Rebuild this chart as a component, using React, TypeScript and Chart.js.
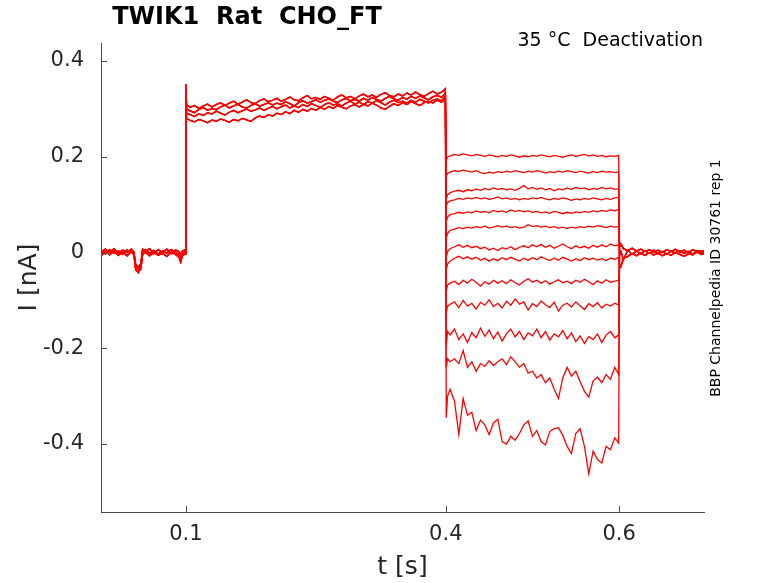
import React, { useEffect, useRef } from 'react';
import { Chart, registerables } from 'chart.js';

Chart.register(...registerables);

// ---- data ----
const chartTitle = 'TWIK1  Rat  CHO_FT';
const conditionNote = '35 °C  Deactivation';
const sourceNote = 'BBP Channelpedia ID 30761 rep 1';

const xTicks = [0.1, 0.4, 0.6];
const yTicks = [-0.4, -0.2, 0, 0.2, 0.4];

// holding phase before the pre-pulse
const baseT = [0.002, 0.007, 0.012, 0.017, 0.022, 0.027, 0.032, 0.037, 0.040, 0.042, 0.045, 0.048, 0.050, 0.053, 0.058, 0.063, 0.068, 0.073, 0.078, 0.083, 0.088, 0.092, 0.094, 0.096, 0.0995];
const baseA = [0.004, -0.003, 0.006, -0.001, 0.003, -0.004, 0.005, 0.000, -0.002, -0.030, -0.036, -0.028, 0.002, 0.006, -0.002, 0.004, -0.003, 0.003, -0.001, 0.006, 0.000, -0.004, -0.012, -0.003, 0.002];
const baseB = [-0.007, 0.002, -0.005, 0.003, -0.006, 0.001, -0.007, 0.002, -0.005, -0.036, -0.042, -0.034, -0.005, 0.001, -0.007, 0.000, -0.006, -0.002, -0.008, 0.001, -0.004, -0.010, -0.020, -0.006, -0.003];
const baseC = [0.001, 0.007, 0.000, 0.008, -0.002, 0.005, 0.000, 0.007, 0.001, -0.024, -0.032, -0.022, 0.007, 0.001, 0.008, -0.002, 0.006, 0.000, 0.007, -0.003, 0.005, 0.002, -0.004, 0.003, 0.006];

// activating pre-pulse
const stepT = [0.1, 0.1008,
  0.105, 0.11, 0.115, 0.12, 0.125, 0.13, 0.135, 0.14, 0.145, 0.15,
  0.155, 0.16, 0.165, 0.17, 0.175, 0.18, 0.185, 0.19, 0.195, 0.2,
  0.205, 0.21, 0.215, 0.22, 0.225, 0.23, 0.235, 0.24, 0.245, 0.25,
  0.255, 0.26, 0.265, 0.27, 0.275, 0.28, 0.285, 0.29, 0.295, 0.3,
  0.305, 0.31, 0.315, 0.32, 0.325, 0.33, 0.335, 0.34, 0.345, 0.35,
  0.355, 0.36, 0.365, 0.37, 0.375, 0.38, 0.385, 0.39, 0.395,
  0.3995];
const stepA = [0.352, 0.309,
  0.303, 0.307, 0.301, 0.306, 0.310, 0.304, 0.309, 0.313, 0.307, 0.312,
  0.316, 0.310, 0.314, 0.319, 0.313, 0.311, 0.317, 0.321, 0.315, 0.318,
  0.322, 0.316, 0.320, 0.325, 0.319, 0.317, 0.323, 0.328, 0.321, 0.324,
  0.320, 0.326, 0.322, 0.318, 0.325, 0.329, 0.323, 0.326, 0.321, 0.327,
  0.331, 0.325, 0.329, 0.324, 0.330, 0.334, 0.328, 0.325, 0.331, 0.327,
  0.333, 0.329, 0.335, 0.330, 0.326, 0.332, 0.337, 0.331, 0.335,
  0.342];
const stepB = [0.340, 0.300,
  0.296, 0.292, 0.299, 0.303, 0.297, 0.301, 0.298, 0.304, 0.308, 0.302,
  0.306, 0.310, 0.304, 0.301, 0.307, 0.311, 0.306, 0.309, 0.313, 0.308,
  0.312, 0.309, 0.315, 0.311, 0.306, 0.313, 0.317, 0.312, 0.315, 0.319,
  0.314, 0.318, 0.321, 0.316, 0.313, 0.319, 0.322, 0.317, 0.320, 0.316,
  0.322, 0.318, 0.324, 0.320, 0.316, 0.322, 0.326, 0.321, 0.318, 0.324,
  0.320, 0.326, 0.322, 0.327, 0.323, 0.319, 0.325, 0.328, 0.324,
  0.333];
const stepC = [0.330, 0.291,
  0.288, 0.284, 0.290, 0.286, 0.292, 0.289, 0.295, 0.291, 0.287, 0.293,
  0.297, 0.292, 0.296, 0.300, 0.295, 0.298, 0.302, 0.297, 0.301, 0.305,
  0.300, 0.304, 0.308, 0.302, 0.306, 0.303, 0.309, 0.305, 0.311, 0.307,
  0.303, 0.309, 0.313, 0.308, 0.311, 0.306, 0.312, 0.316, 0.310, 0.314,
  0.309, 0.315, 0.312, 0.317, 0.313, 0.308, 0.314, 0.318, 0.313, 0.316,
  0.312, 0.318, 0.314, 0.320, 0.316, 0.312, 0.318, 0.321, 0.317,
  0.326];
const stepD = [0.318, 0.280,
  0.276, 0.273, 0.278, 0.275, 0.271, 0.277, 0.274, 0.279, 0.276, 0.272,
  0.278, 0.275, 0.280, 0.277, 0.274, 0.281, 0.285, 0.282, 0.288, 0.285,
  0.291, 0.288, 0.294, 0.290, 0.297, 0.293, 0.299, 0.295, 0.301, 0.297,
  0.303, 0.299, 0.305, 0.301, 0.307, 0.303, 0.300, 0.306, 0.309, 0.304,
  0.310, 0.306, 0.312, 0.308, 0.302, 0.299, 0.305, 0.311, 0.307, 0.313,
  0.309, 0.315, 0.311, 0.307, 0.313, 0.316, 0.312, 0.318, 0.314,
  0.320];

// deactivation test pulses
const deactT = [0.4005, 0.402, 0.405,
  0.41, 0.415, 0.42, 0.425, 0.43, 0.435, 0.44, 0.445, 0.45, 0.455,
  0.46, 0.465, 0.47, 0.475, 0.48, 0.485, 0.49, 0.495, 0.50, 0.505,
  0.51, 0.515, 0.52, 0.525, 0.53, 0.535, 0.54, 0.545, 0.55, 0.555,
  0.56, 0.565, 0.57, 0.575, 0.58, 0.585, 0.59, 0.595, 0.5995];
const deact1 = [0.194, 0.199, 0.202,
  0.205, 0.203, 0.206, 0.204, 0.202, 0.205, 0.203, 0.201, 0.204, 0.202,
  0.200, 0.203, 0.201, 0.204, 0.202, 0.199, 0.202, 0.200, 0.203, 0.201,
  0.204, 0.202, 0.200, 0.203, 0.201, 0.199, 0.202, 0.204, 0.201, 0.203,
  0.205, 0.202, 0.204, 0.201, 0.203, 0.200, 0.202, 0.201, 0.203];
const deact2 = [0.160, 0.165, 0.168,
  0.171, 0.169, 0.172, 0.170, 0.168, 0.171, 0.167, 0.165, 0.168, 0.166,
  0.169, 0.167, 0.170, 0.168, 0.171, 0.169, 0.167, 0.170, 0.168, 0.171,
  0.169, 0.166, 0.169, 0.167, 0.170, 0.168, 0.171, 0.169, 0.167, 0.170,
  0.168, 0.166, 0.169, 0.167, 0.170, 0.168, 0.169, 0.167, 0.168];
const deact3 = [0.112, 0.120, 0.125,
  0.128, 0.130, 0.127, 0.131, 0.129, 0.133, 0.130, 0.134, 0.131, 0.135,
  0.132, 0.134, 0.131, 0.133, 0.130, 0.134, 0.140, 0.133, 0.136, 0.132,
  0.135, 0.131, 0.134, 0.129, 0.133, 0.131, 0.135, 0.132, 0.136, 0.133,
  0.135, 0.131, 0.134, 0.132, 0.136, 0.133, 0.135, 0.132, 0.133];
const deact4 = [0.098, 0.104, 0.108,
  0.110, 0.113, 0.111, 0.114, 0.112, 0.115, 0.112, 0.114, 0.111, 0.113,
  0.116, 0.112, 0.114, 0.111, 0.113, 0.110, 0.113, 0.111, 0.114, 0.112,
  0.115, 0.112, 0.110, 0.113, 0.111, 0.114, 0.112, 0.109, 0.112, 0.110,
  0.113, 0.111, 0.114, 0.112, 0.110, 0.113, 0.111, 0.114, 0.115];
const deact5 = [0.065, 0.074, 0.079,
  0.081, 0.084, 0.082, 0.085, 0.083, 0.087, 0.084, 0.086, 0.083, 0.088,
  0.085, 0.087, 0.084, 0.089, 0.086, 0.088, 0.085, 0.087, 0.084, 0.086,
  0.083, 0.085, 0.082, 0.086, 0.084, 0.081, 0.084, 0.082, 0.085, 0.083,
  0.086, 0.084, 0.087, 0.085, 0.088, 0.086, 0.089, 0.087, 0.090];
const deact6 = [0.030, 0.040, 0.046,
  0.049, 0.052, 0.050, 0.053, 0.051, 0.054, 0.052, 0.055, 0.051, 0.053,
  0.056, 0.053, 0.055, 0.052, 0.054, 0.051, 0.053, 0.058, 0.054, 0.056,
  0.053, 0.055, 0.052, 0.054, 0.051, 0.053, 0.050, 0.053, 0.051, 0.054,
  0.052, 0.055, 0.053, 0.056, 0.054, 0.052, 0.055, 0.053, 0.054];
const deact7 = [-0.010, 0.002, 0.008,
  0.012, 0.016, 0.011, 0.015, 0.010, 0.013, 0.008, 0.011, 0.005, 0.009,
  0.004, 0.010, 0.007, 0.012, 0.006, 0.011, 0.014, 0.010, 0.016, 0.012,
  0.017, 0.011, 0.015, 0.009, 0.013, 0.018, 0.012, 0.008, 0.014, 0.010,
  0.013, 0.009, 0.015, 0.011, 0.016, 0.012, 0.018, 0.014, 0.016];
const deact8 = [-0.035, -0.024, -0.018,
  -0.012, -0.008, -0.013, -0.009, -0.014, -0.010, -0.016, -0.012, -0.018, -0.013,
  -0.017, -0.011, -0.015, -0.010, -0.014, -0.018, -0.012, -0.016, -0.011, -0.015,
  -0.009, -0.013, -0.017, -0.012, -0.016, -0.010, -0.014, -0.018, -0.013, -0.017,
  -0.011, -0.015, -0.012, -0.016, -0.013, -0.017, -0.012, -0.014, -0.010];
const deact9 = [-0.080, -0.068, -0.064,
  -0.060, -0.067, -0.058, -0.064, -0.056, -0.062, -0.070, -0.061, -0.066, -0.058,
  -0.064, -0.059, -0.065, -0.057, -0.063, -0.068, -0.060, -0.055, -0.062, -0.058,
  -0.064, -0.059, -0.066, -0.061, -0.057, -0.063, -0.060, -0.065, -0.058, -0.062,
  -0.056, -0.061, -0.067, -0.059, -0.064, -0.057, -0.062, -0.060, -0.058];
const deact10 = [-0.125, -0.112, -0.108,
  -0.103, -0.115, -0.100, -0.112, -0.106, -0.118, -0.104, -0.110, -0.099, -0.113,
  -0.106, -0.116, -0.102, -0.110, -0.097, -0.108, -0.103, -0.120, -0.107, -0.113,
  -0.101, -0.109, -0.115, -0.104, -0.122, -0.110, -0.106, -0.114, -0.103, -0.111,
  -0.119, -0.107, -0.113, -0.105, -0.116, -0.108, -0.112, -0.106, -0.110];
const deact11 = [-0.195, -0.165, -0.172,
  -0.160, -0.182, -0.170, -0.188, -0.167, -0.178, -0.158, -0.175, -0.162, -0.180,
  -0.166, -0.185, -0.170, -0.160, -0.176, -0.165, -0.182, -0.168, -0.174, -0.160,
  -0.178, -0.165, -0.183, -0.170, -0.176, -0.163, -0.180, -0.168, -0.186, -0.174,
  -0.190, -0.176, -0.182, -0.170, -0.188, -0.172, -0.165, -0.178, -0.172];
const deact12 = [-0.240, -0.222, -0.228,
  -0.222, -0.232, -0.205, -0.240, -0.228, -0.248, -0.232, -0.238, -0.226, -0.236,
  -0.228, -0.222, -0.234, -0.218, -0.228, -0.240, -0.232, -0.252, -0.248, -0.262,
  -0.255, -0.272, -0.262, -0.285, -0.305, -0.262, -0.240, -0.258, -0.248, -0.270,
  -0.290, -0.302, -0.268, -0.260, -0.272, -0.255, -0.265, -0.240, -0.255];
const deact13 = [-0.345, -0.300, -0.286,
  -0.310, -0.380, -0.305, -0.340, -0.334, -0.372, -0.350, -0.360, -0.380, -0.356,
  -0.348, -0.395, -0.400, -0.384, -0.392, -0.378, -0.360, -0.352, -0.384, -0.372,
  -0.395, -0.402, -0.374, -0.368, -0.366, -0.382, -0.405, -0.420, -0.378, -0.368,
  -0.405, -0.462, -0.415, -0.432, -0.440, -0.405, -0.412, -0.387, -0.398];

// return to holding
const tailT = [0.6005, 0.602, 0.605, 0.61, 0.615, 0.62, 0.625, 0.63, 0.635, 0.64, 0.645, 0.65, 0.655, 0.66, 0.665, 0.67, 0.675, 0.68, 0.685, 0.69, 0.695, 0.698];
const tailA = [0.012, 0.018, 0.008, 0.004, 0.009, 0.003, 0.007, 0.002, 0.006, 0.001, 0.005, 0.000, 0.006, 0.002, 0.007, 0.001, 0.005, 0.000, 0.006, 0.002, 0.004, 0.003];
const tailB = [-0.025, -0.030, -0.012, -0.008, -0.002, -0.007, -0.001, -0.006, 0.000, -0.005, -0.001, -0.007, -0.002, -0.006, 0.000, -0.004, -0.008, -0.003, -0.005, 0.001, -0.004, -0.002];
const tailC = [-0.005, 0.002, -0.015, 0.005, -0.004, 0.003, -0.003, 0.004, -0.002, 0.005, -0.003, 0.002, -0.004, 0.003, -0.001, 0.004, -0.002, 0.002, -0.003, 0.003, -0.001, 0.001];

// which pieces make up each sweep
const sweepBase = [baseA, baseB, baseC, baseA, baseB, baseC, baseA, baseB, baseC, baseA, baseB, baseC, baseA];
const sweepStep = [stepA, stepB, stepC, stepD, stepA, stepB, stepC, stepD, stepA, stepB, stepC, stepD, stepB];
const sweepDeact = [deact1, deact2, deact3, deact4, deact5, deact6, deact7, deact8, deact9, deact10, deact11, deact12, deact13];
const sweepTail = [tailA, tailB, tailC, tailA, tailB, tailC, tailA, tailB, tailC, tailA, tailB, tailC, tailA];

const FONT = '"DejaVu Sans", "Liberation Sans", sans-serif';
const TEXT = '#262626';
const AXIS = '#4d4d4d';

const zip = (t: number[], v: number[]) => t.map((x, i) => ({ x, y: v[i] }));

const decorations = {
  id: 'decorations',
  afterDraw(chart: any) {
    const { ctx, chartArea, scales } = chart;
    const x = scales.x;
    const y = scales.y;
    ctx.save();
    // inward tick marks
    ctx.strokeStyle = AXIS;
    ctx.lineWidth = 1;
    ctx.beginPath();
    xTicks.forEach((v) => {
      const px = Math.round(x.getPixelForValue(v)) + 0.5;
      ctx.moveTo(px, chartArea.bottom);
      ctx.lineTo(px, chartArea.bottom - 6);
    });
    yTicks.forEach((v) => {
      const py = Math.round(y.getPixelForValue(v)) + 0.5;
      ctx.moveTo(chartArea.left, py);
      ctx.lineTo(chartArea.left + 6, py);
    });
    ctx.stroke();

    ctx.fillStyle = '#000';
    ctx.textBaseline = 'middle';
    ctx.textAlign = 'center';
    ctx.font = `bold 24px ${FONT}`;
    ctx.fillText(chartTitle, 247, 18);

    ctx.textAlign = 'right';
    ctx.font = `19px ${FONT}`;
    ctx.fillText(conditionNote, 703, 41);

    ctx.translate(716, 278);
    ctx.rotate(-Math.PI / 2);
    ctx.textAlign = 'center';
    ctx.font = `14px ${FONT}`;
    ctx.fillText(sourceNote, 0, 0);
    ctx.restore();
  },
};

const App: React.FC = () => {
  const canvasRef = useRef<HTMLCanvasElement>(null);

  useEffect(() => {
    if (!canvasRef.current) return;
    const datasets = sweepDeact.map((deact, i) => ({
      data: [
        ...zip(baseT, sweepBase[i]),
        ...zip(stepT, sweepStep[i]),
        ...zip(deactT, deact),
        ...zip(tailT, sweepTail[i]),
      ],
      borderColor: '#ff0000',
      borderWidth: 1.3,
      pointRadius: 0,
      tension: 0,
      fill: false,
    }));

    const chart = new Chart(canvasRef.current, {
      type: 'line',
      data: { datasets },
      options: {
        animation: false,
        responsive: false,
        devicePixelRatio: 1,
        layout: { padding: { top: 43, right: 74, bottom: 0, left: 0 } },
        plugins: { legend: { display: false }, tooltip: { enabled: false } },
        scales: {
          x: {
            type: 'linear',
            min: 0.002,
            max: 0.698,
            afterBuildTicks: (s: any) => { s.ticks = xTicks.map((value) => ({ value })); },
            afterFit: (s: any) => { s.height = 71; },
            grid: { display: false, drawTicks: false },
            border: { display: true, color: AXIS, width: 1 },
            ticks: {
              color: TEXT,
              font: { family: FONT, size: 21 },
              padding: 10,
              maxRotation: 0,
              autoSkip: false,
              callback: (v: any) => String(v),
            },
            title: {
              display: true,
              text: 't [s]',
              color: TEXT,
              font: { family: FONT, size: 25, lineHeight: 1 },
              padding: { top: 0, bottom: 3 },
            },
          },
          y: {
            type: 'linear',
            min: -0.542,
            max: 0.4376,
            afterBuildTicks: (s: any) => { s.ticks = yTicks.map((value) => ({ value })); },
            afterFit: (s: any) => { s.width = 101; },
            grid: { display: false, drawTicks: false },
            border: { display: true, color: AXIS, width: 1 },
            ticks: {
              color: TEXT,
              font: { family: FONT, size: 21 },
              padding: 17,
              autoSkip: false,
              callback: (v: any) => String(v),
            },
            title: {
              display: true,
              text: 'I [nA]',
              color: TEXT,
              font: { family: FONT, size: 25, lineHeight: 1 },
              padding: { top: 17, bottom: 0 },
            },
          },
        },
      },
      plugins: [decorations],
    });

    return () => chart.destroy();
  }, []);

  return (
    <div style={{ position: 'fixed', left: 0, top: 0, width: 778, height: 583, background: '#fff' }}>
      <canvas ref={canvasRef} width={778} height={583} />
    </div>
  );
};

export default App;
